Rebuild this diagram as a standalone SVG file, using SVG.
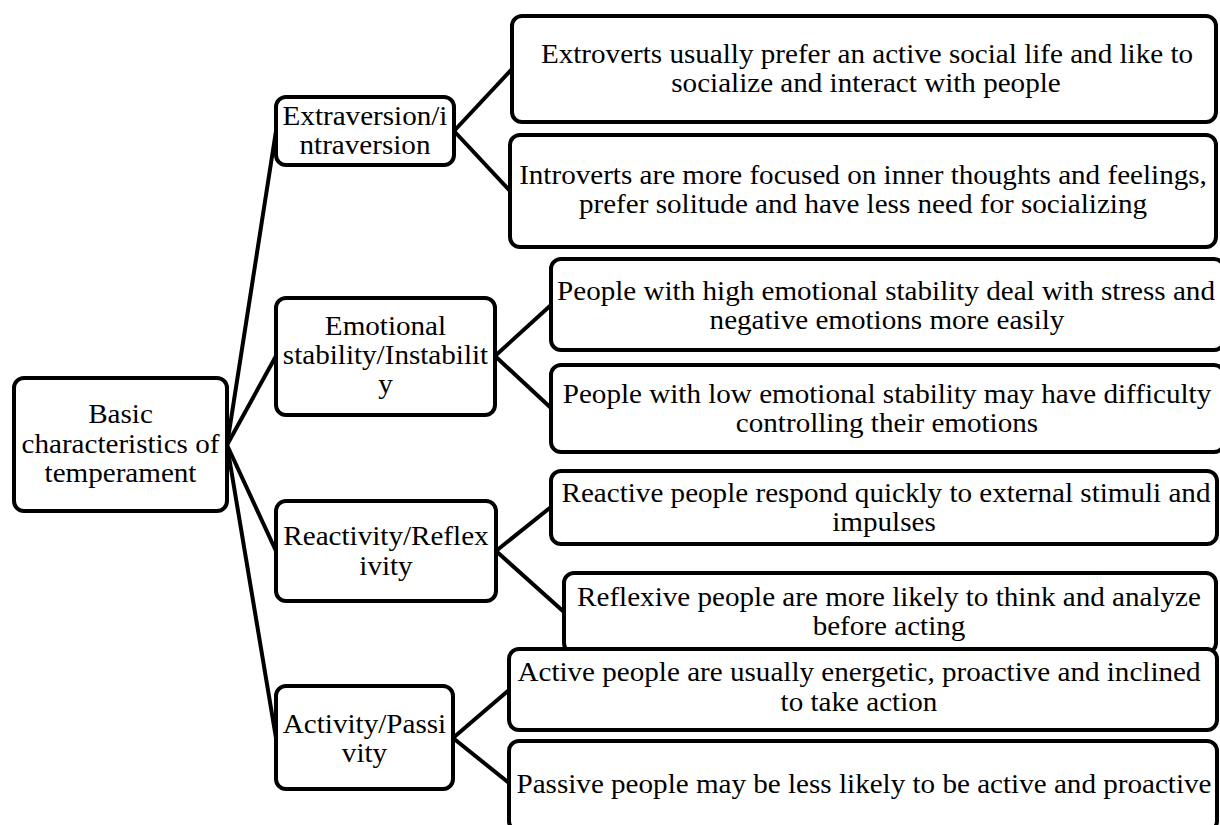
<svg xmlns="http://www.w3.org/2000/svg" width="1220" height="825" viewBox="0 0 1220 825">
<style>
.box{fill:#fff;stroke:#000;stroke-width:4}
.t{font-family:"Liberation Serif","Times New Roman",serif;font-size:28px;fill:#000;text-anchor:middle;transform-box:fill-box;transform-origin:center;transform:scaleX(1.04)}
.c{stroke:#000;stroke-width:4;fill:none}
</style>
<rect width="1220" height="825" fill="#fff"/>
<g id="connectors">
<line class="c" x1="227" y1="445" x2="276" y2="131"/>
<line class="c" x1="227" y1="445" x2="276" y2="356"/>
<line class="c" x1="227" y1="445" x2="276" y2="551"/>
<line class="c" x1="227" y1="445" x2="276" y2="738"/>
<line class="c" x1="454" y1="131" x2="512" y2="69"/>
<line class="c" x1="454" y1="131" x2="510" y2="191"/>
<line class="c" x1="495" y1="356" x2="551" y2="305"/>
<line class="c" x1="495" y1="356" x2="551" y2="408"/>
<line class="c" x1="496" y1="551" x2="551" y2="507"/>
<line class="c" x1="496" y1="551" x2="564" y2="612"/>
<line class="c" x1="453" y1="738" x2="509" y2="690"/>
<line class="c" x1="453" y1="738" x2="509" y2="783"/>
</g>
<g id="root">
<rect class="box" x="14" y="378" width="213" height="133" rx="10"/>
<text class="t" x="120.5" y="423">Basic</text>
<text class="t" x="120.5" y="453">characteristics of</text>
<text class="t" x="120.5" y="482">temperament</text>
</g>
<g id="extraversion">
<rect class="box" x="276" y="97" width="178" height="68" rx="10"/>
<text class="t" x="365" y="125">Extraversion/i</text>
<text class="t" x="365" y="154">ntraversion</text>
</g>
<g id="emotional">
<rect class="box" x="276" y="298" width="219" height="117" rx="10"/>
<text class="t" x="385.5" y="335">Emotional</text>
<text class="t" x="385.5" y="364">stability/Instabilit</text>
<text class="t" x="385.5" y="393">y</text>
</g>
<g id="reactivity">
<rect class="box" x="276" y="501" width="220" height="100" rx="10"/>
<text class="t" x="386" y="545">Reactivity/Reflex</text>
<text class="t" x="386" y="575">ivity</text>
</g>
<g id="activity">
<rect class="box" x="276" y="686" width="177" height="103" rx="10"/>
<text class="t" x="364.5" y="733">Activity/Passi</text>
<text class="t" x="364.5" y="762">vity</text>
</g>
<g id="extroverts">
<rect class="box" x="512" y="16" width="704" height="106" rx="10"/>
<text class="t" x="867" y="63">Extroverts usually prefer an active social life and like to</text>
<text class="t" x="866" y="92">socialize and interact with people</text>
</g>
<g id="introverts">
<rect class="box" x="510" y="135" width="706" height="112" rx="10"/>
<text class="t" x="863" y="184.5">Introverts are more focused on inner thoughts and feelings,</text>
<text class="t" x="863" y="213.5">prefer solitude and have less need for socializing</text>
</g>
<g id="high-stability">
<rect class="box" x="551" y="259" width="673" height="91" rx="10"/>
<text class="t" x="886" y="300">People with high emotional stability deal with stress and</text>
<text class="t" x="887" y="329">negative emotions more easily</text>
</g>
<g id="low-stability">
<rect class="box" x="551" y="365" width="673" height="87" rx="10"/>
<text class="t" x="887" y="403">People with low emotional stability may have difficulty</text>
<text class="t" x="887" y="432">controlling their emotions</text>
</g>
<g id="reactive">
<rect class="box" x="551" y="471" width="666" height="73" rx="10"/>
<text class="t" x="886" y="502">Reactive people respond quickly to external stimuli and</text>
<text class="t" x="884" y="531">impulses</text>
</g>
<g id="reflexive">
<rect class="box" x="564" y="573" width="652" height="80" rx="10"/>
<text class="t" x="889" y="606.5">Reflexive people are more likely to think and analyze</text>
<text class="t" x="889" y="635.5">before acting</text>
</g>
<g id="active">
<rect class="box" x="509" y="649" width="708" height="81" rx="10"/>
<text class="t" x="859" y="681">Active people are usually energetic, proactive and inclined</text>
<text class="t" x="859" y="711">to take action</text>
</g>
<g id="passive">
<rect class="box" x="509" y="741" width="708" height="90" rx="10"/>
<text class="t" x="864" y="793">Passive people may be less likely to be active and proactive</text>
</g>
</svg>
